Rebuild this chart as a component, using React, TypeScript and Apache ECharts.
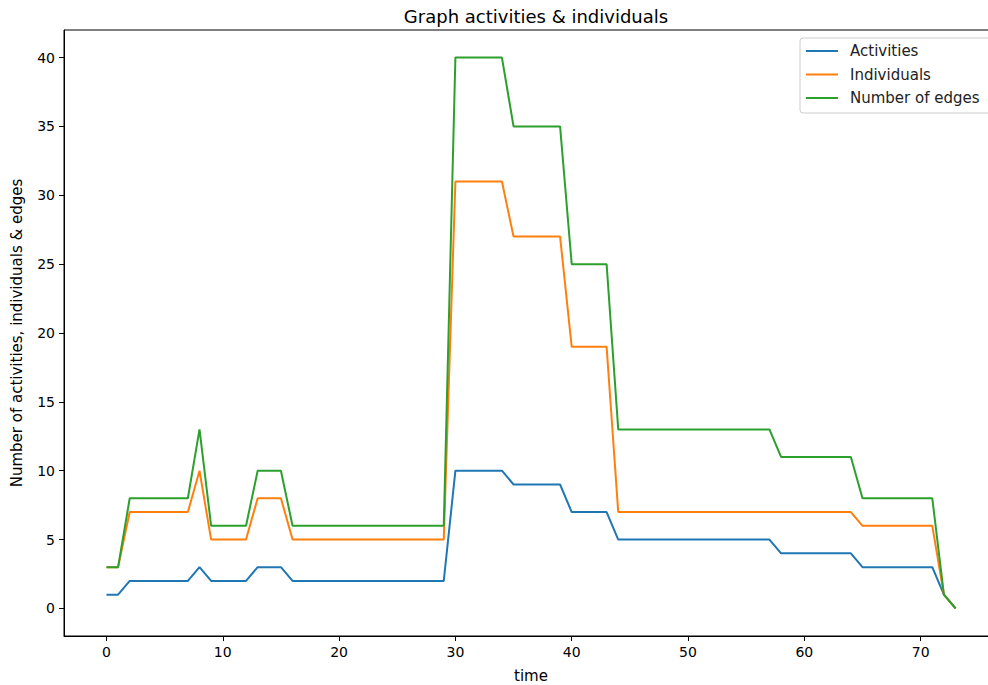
import React, { useEffect, useRef } from "react";
import * as echarts from "echarts";

// Counts per time step (t = 0 .. 73)
const activities = [
  1, 1, 2, 2, 2, 2, 2, 2, 3, 2, 2, 2, 2, 3, 3, 3, 2, 2, 2, 2,
  2, 2, 2, 2, 2, 2, 2, 2, 2, 2, 10, 10, 10, 10, 10, 9, 9, 9, 9, 9,
  7, 7, 7, 7, 5, 5, 5, 5, 5, 5, 5, 5, 5, 5, 5, 5, 5, 5, 4, 4,
  4, 4, 4, 4, 4, 3, 3, 3, 3, 3, 3, 3, 1, 0,
];
const individuals = [
  3, 3, 7, 7, 7, 7, 7, 7, 10, 5, 5, 5, 5, 8, 8, 8, 5, 5, 5, 5,
  5, 5, 5, 5, 5, 5, 5, 5, 5, 5, 31, 31, 31, 31, 31, 27, 27, 27, 27, 27,
  19, 19, 19, 19, 7, 7, 7, 7, 7, 7, 7, 7, 7, 7, 7, 7, 7, 7, 7, 7,
  7, 7, 7, 7, 7, 6, 6, 6, 6, 6, 6, 6, 1, 0,
];
const edges = [
  3, 3, 8, 8, 8, 8, 8, 8, 13, 6, 6, 6, 6, 10, 10, 10, 6, 6, 6, 6,
  6, 6, 6, 6, 6, 6, 6, 6, 6, 6, 40, 40, 40, 40, 40, 35, 35, 35, 35, 35,
  25, 25, 25, 25, 13, 13, 13, 13, 13, 13, 13, 13, 13, 13, 13, 13, 13, 13, 11, 11,
  11, 11, 11, 11, 11, 8, 8, 8, 8, 8, 8, 8, 1, 0,
];

const seriesNames = ["Activities", "Individuals", "Number of edges"];
const colors = ["#1f77b4", "#ff7f0e", "#2ca02c"];
const xTicks = [0, 10, 20, 30, 40, 50, 60, 70];
const yTicks = [0, 5, 10, 15, 20, 25, 30, 35, 40];

const FONT = "DejaVu Sans";

export default function App() {
  const ref = useRef<HTMLDivElement>(null);

  useEffect(() => {
    if (!ref.current) return;
    const chart = echarts.init(ref.current, undefined, { renderer: "svg" });
    const all = [activities, individuals, edges];

    const legendX = 800;
    const legendY = 38;
    const rowGap = 23.5;
    const legendGraphics: any[] = [
      {
        type: "rect",
        shape: { x: legendX, y: legendY, width: 200, height: 75, r: 3 },
        style: { fill: "rgba(255,255,255,0.8)", stroke: "#cccccc", lineWidth: 1 },
        z: 100,
      },
    ];
    seriesNames.forEach((name, i) => {
      const cy = legendY + 13 + i * rowGap;
      legendGraphics.push({
        type: "line",
        shape: { x1: legendX + 6, y1: cy, x2: legendX + 38, y2: cy },
        style: { stroke: colors[i], lineWidth: 2 },
        z: 101,
      });
      legendGraphics.push({
        type: "text",
        x: legendX + 50,
        y: cy,
        style: {
          text: name,
          fill: "#222",
          font: `15px '${FONT}'`,
          textVerticalAlign: "middle",
        },
        z: 101,
      });
    });

    chart.setOption({
      animation: false,
      backgroundColor: "#ffffff",
      title: {
        text: "Graph activities & individuals",
        left: 531,
        top: 2,
        textAlign: "center",
        textStyle: { fontFamily: FONT, fontSize: 18, fontWeight: "normal", color: "#000" },
      },
      grid: {
        left: 64,
        top: 30,
        width: 934,
        height: 606,
        containLabel: false,
        outerBoundsMode: "none",
        show: true,
        borderColor: "#000",
        borderWidth: 1,
        backgroundColor: "transparent",
      },
      xAxis: {
        type: "value",
        min: -3.65,
        max: 76.65,
        name: "time",
        nameLocation: "middle",
        nameGap: 32,
        nameTextStyle: { fontFamily: FONT, fontSize: 15, color: "#000" },
        axisLine: { show: true, onZero: false, lineStyle: { color: "#000", width: 1 } },
        axisTick: { show: true, length: 5, customValues: xTicks, lineStyle: { color: "#000" } },
        axisLabel: {
          customValues: xTicks,
          fontFamily: FONT,
          fontSize: 14,
          color: "#000",
          margin: 9,
        },
        splitLine: { show: false },
      },
      yAxis: {
        type: "value",
        min: -2,
        max: 42,
        name: "Number of activities, individuals & edges",
        nameLocation: "middle",
        nameRotate: 90,
        nameGap: 40,
        nameTextStyle: { fontFamily: FONT, fontSize: 15, color: "#000" },
        axisLine: { show: true, onZero: false, lineStyle: { color: "#000", width: 1 } },
        axisTick: { show: true, length: 5, customValues: yTicks, lineStyle: { color: "#000" } },
        axisLabel: {
          customValues: yTicks,
          fontFamily: FONT,
          fontSize: 14,
          color: "#000",
          margin: 9,
        },
        splitLine: { show: false },
      },
      series: all.map((vals, i) => ({
        name: seriesNames[i],
        type: "line",
        data: vals.map((v, t) => [t, v]),
        showSymbol: false,
        symbol: "none",
        lineStyle: { color: colors[i], width: 2 },
        itemStyle: { color: colors[i] },
        z: 10 + i,
      })),
      graphic: legendGraphics,
    });

    return () => chart.dispose();
  }, []);

  return (
    <div
      style={{
        position: "fixed",
        left: 0,
        top: 0,
        width: 988,
        height: 685,
        overflow: "hidden",
        background: "#fff",
      }}
    >
      <div ref={ref} style={{ width: 1010, height: 685 }} />
    </div>
  );
}
